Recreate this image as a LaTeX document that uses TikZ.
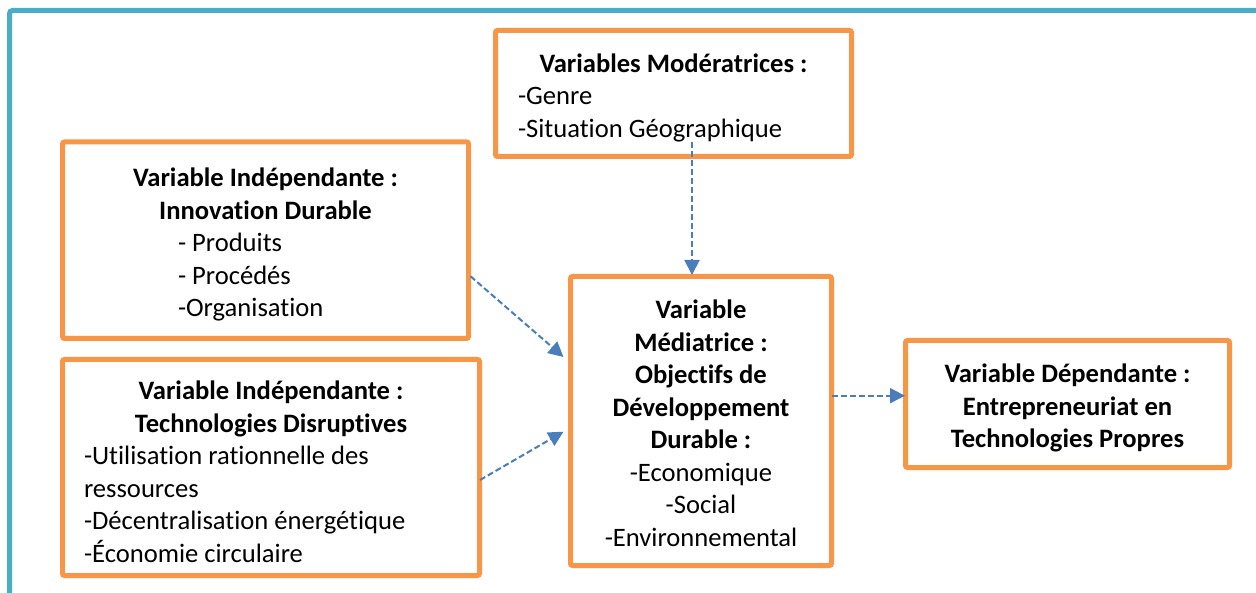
\documentclass[tikz,border=0pt]{standalone}
\usepackage{fontspec}
\setmainfont{Carlito}[Ligatures={NoCommon,NoContextual}]
\usetikzlibrary{arrows.meta,calc}
\definecolor{frameteal}{RGB}{75,172,198}
\definecolor{boxorange}{RGB}{247,150,70}
\definecolor{arrowblue}{RGB}{74,126,187}
\newcommand{\headstrut}[1][27.5pt]{\rule{0pt}{#1}}

\begin{document}
\begin{tikzpicture}[x=1pt, y=-1pt,
    varbox/.style={draw=boxorange, line width=5pt, rounded corners=2pt, inner sep=0pt, outer sep=0pt, align=center, font=\fontsize{26.6}{32.5}\selectfont},
    dasharrow/.style={draw=arrowblue, line width=2pt, dash pattern=on 6pt off 3pt, -{Triangle[length=15pt,width=15pt,fill=arrowblue]}}]
        \useasboundingbox (0,0) rectangle (1256,593);
        % --- Draw outer frame ---
        \draw[frameteal, line width=5pt, rounded corners=3pt] (9.5,593) -- (9.5,10.5) -- (1256,10.5);
        % --- Draw variable boxes ---
        \node[varbox, minimum width=356pt, minimum height=126pt] (moder) at (673.5,93.5)
            {\headstrut\textbf{Variables Modératrices :}\\ \makebox[311pt][l]{-Genre}\\ \makebox[311pt][l]{-Situation Géographique}};
        \node[varbox, minimum width=406pt, minimum height=196.5pt] (indepA) at (265.5,240.25)
            {\headstrut\textbf{Variable Indépendante :}\\ \textbf{Innovation Durable}\\ \makebox[175pt][l]{- Produits}\\ \makebox[175pt][l]{- Procédés}\\ \makebox[175pt][l]{-Organisation}};
        \node[varbox, minimum width=417pt, minimum height=216pt] (indepB) at (271,467.5)
            {\headstrut\textbf{Variable Indépendante :}\\ \textbf{Technologies Disruptives}\\ \makebox[374pt][l]{-Utilisation rationnelle des}\\ \makebox[374pt][l]{ressources}\\ \makebox[374pt][l]{-Décentralisation énergétique}\\ \makebox[374pt][l]{-Économie circulaire}};
        \node[varbox, minimum width=261pt, minimum height=289pt] (med) at (701,421)
            {\headstrut[23pt]\textbf{Variable}\\ \textbf{Médiatrice :}\\ \textbf{Objectifs de}\\ \textbf{Développement}\\ \textbf{Durable :}\\ -Economique\\ -Social\\ -Environnemental};
        \node[varbox, minimum width=324pt, minimum height=127pt] (dep) at (1067.5,404)
            {\headstrut\textbf{Variable Dépendante :}\\ \textbf{Entrepreneuriat en}\\ \textbf{Technologies Propres}};
        % --- Draw dashed links ---
        \draw[dasharrow] ($(indepA.east)+(2,36)$) -- ($(med.west)+(-7,-64)$);
        \draw[dasharrow] ($(indepB.east)+(0.5,12.5)$) -- ($(med.west)+(-7,10.7)$);
        \draw[dasharrow] ($(moder.south)+(18.5,-14.5)$) -- ($(med.north)+(-9,-1.5)$);
        \draw[dasharrow] ($(med.east)+(0,-25.3)$) -- ($(dep.west)+(-0.5,-8.3)$);
        % ---
\end{tikzpicture}
\end{document}
